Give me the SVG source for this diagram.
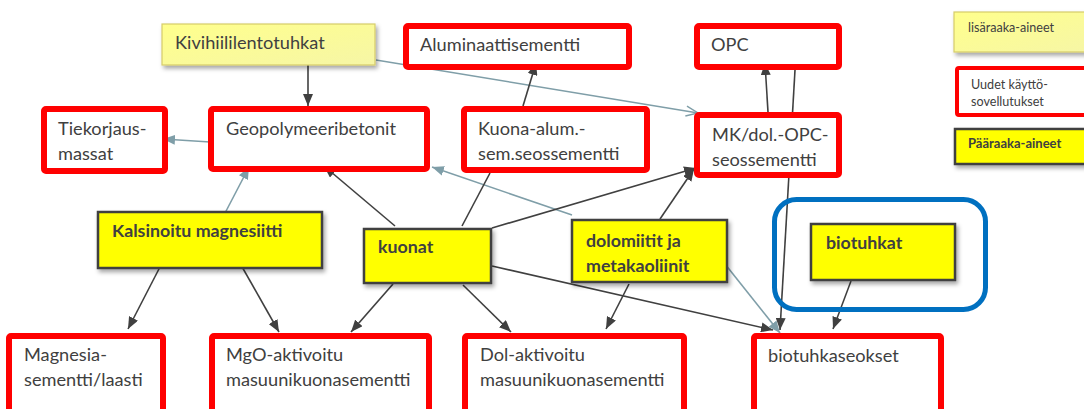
<svg xmlns="http://www.w3.org/2000/svg" width="1084" height="409" viewBox="0 0 1084 409">
<defs>
<style>
.t{font-family:Lato,"Open Sans","Liberation Sans",sans-serif;font-size:18.2px;fill:#404040}
.b{font-family:Lato,"Open Sans","Liberation Sans",sans-serif;font-size:17.8px;font-weight:bold;fill:#404040}
.s{font-family:Lato,"Open Sans","Liberation Sans",sans-serif;font-size:12.6px;fill:#404040}
.sb{font-family:Lato,"Open Sans","Liberation Sans",sans-serif;font-size:13px;font-weight:bold;fill:#404040}
.red{fill:#fff;stroke:#ff0000;stroke-width:6}
.yel{fill:#ffff00;stroke:#404040;stroke-width:2.5;filter:url(#sh)}
.lyel{fill:url(#lg);stroke:#d6cc6a;stroke-width:1.2;filter:url(#sh)}
.d{stroke:#404040;stroke-width:1.6;fill:none;marker-end:url(#ad)}
.dn{stroke:#404040;stroke-width:1.6;fill:none}
.g{stroke:#7f9ea8;stroke-width:1.6;fill:none;marker-end:url(#ag)}
.go{stroke:#7f9ea8;stroke-width:1.4;fill:none;marker-end:url(#ao)}
</style>
<linearGradient id="lg" x1="0" y1="0" x2="1" y2="1">
<stop offset="0" stop-color="#ffff8c"/>
<stop offset="1" stop-color="#f6f6a6"/>
</linearGradient>
<filter id="sh" x="-10%" y="-20%" width="130%" height="150%">
<feDropShadow dx="2" dy="3" stdDeviation="2" flood-color="#000" flood-opacity="0.35"/>
</filter>
<marker id="ad" markerUnits="userSpaceOnUse" markerWidth="12" markerHeight="10" refX="12" refY="5" orient="auto">
<path d="M0,0 L12,5 L0,10 z" fill="#404040"/>
</marker>
<marker id="ag" markerUnits="userSpaceOnUse" markerWidth="12" markerHeight="10" refX="12" refY="5" orient="auto">
<path d="M0,0 L12,5 L0,10 z" fill="#7f9ea8"/>
</marker>
<marker id="ao" markerUnits="userSpaceOnUse" markerWidth="14" markerHeight="12" refX="13" refY="6" orient="auto">
<path d="M1,1 L13,6 L1,11" fill="none" stroke="#7f9ea8" stroke-width="1.4"/>
</marker>
</defs>
<rect width="1084" height="409" fill="#fff"/>
<g id="connectors">
<line class="d" x1="308" y1="64" x2="308" y2="106"/>
<line class="go" x1="376" y1="60" x2="698" y2="113"/>
<line class="g" x1="210" y1="142" x2="163" y2="139"/>
<line class="d" x1="523" y1="106" x2="536" y2="63"/>
<line class="d" x1="768" y1="112" x2="765" y2="63"/>
<line class="d" x1="795" y1="70" x2="780" y2="330"/>
<line class="g" x1="224" y1="215" x2="249" y2="167"/>
<line class="d" x1="395" y1="226" x2="324" y2="166"/>
<line class="g" x1="572" y1="215" x2="432" y2="167"/>
<line class="dn" x1="462" y1="226" x2="490" y2="173"/>
<line class="d" x1="492" y1="228" x2="696" y2="168"/>
<line class="d" x1="660" y1="219" x2="694" y2="169"/>
<line class="d" x1="161" y1="265" x2="128" y2="329"/>
<line class="d" x1="241" y1="265" x2="279" y2="332"/>
<line class="d" x1="393" y1="284" x2="351" y2="332"/>
<line class="d" x1="463" y1="285" x2="511" y2="332"/>
<line class="d" x1="492" y1="266" x2="773" y2="330"/>
<line class="d" x1="629" y1="284" x2="606" y2="329"/>
<line class="g" x1="725" y1="264" x2="780" y2="333"/>
<line class="d" x1="851" y1="281" x2="833" y2="329"/>
</g>
<g id="kivihiililentotuhkat"><rect class="lyel" x="162" y="24" width="213" height="41"/><text class="t" x="175" y="49">Kivihiililentotuhkat</text></g>
<g id="aluminaattisementti"><rect class="red" x="406" y="26" width="223" height="41" rx="2"/><text class="t" x="420" y="51">Aluminaattisementti</text></g>
<g id="opc"><rect class="red" x="697" y="26" width="142" height="41" rx="2"/><text class="t" x="711" y="51">OPC</text></g>
<g id="tiekorjausmassat"><rect class="red" x="44" y="109" width="121" height="62" rx="2"/><text class="t" x="58" y="135">Tiekorjaus-</text><text class="t" x="58" y="160">massat</text></g>
<g id="geopolymeeribetonit"><rect class="red" x="211" y="109" width="216" height="60" rx="2"/><text class="t" x="226" y="135">Geopolymeeribetonit</text></g>
<g id="kuona-alum"><rect class="red" x="464" y="109" width="183" height="61" rx="2"/><text class="t" x="478" y="135">Kuona-alum.-</text><text class="t" x="478" y="160">sem.seossementti</text></g>
<g id="mk-dol-opc"><rect class="red" x="697" y="115" width="142" height="60" rx="2"/><text class="t" x="712" y="141">MK/dol.-OPC-</text><text class="t" x="712" y="166">seossementti</text></g>
<g id="kalsinoitu-magnesiitti"><rect class="yel" x="98" y="212" width="224" height="56"/><text class="b" x="112" y="237">Kalsinoitu magnesiitti</text></g>
<g id="kuonat"><rect class="yel" x="364" y="229" width="127" height="54"/><text class="b" x="378" y="253">kuonat</text></g>
<g id="dolomiitit"><rect class="yel" x="572" y="220" width="155" height="62"/><text class="b" x="586" y="247">dolomiitit ja</text><text class="b" x="586" y="272">metakaoliinit</text></g>
<g id="bio-group"><rect x="774.5" y="199.5" width="211" height="110" rx="22" fill="none" stroke="#0070c0" stroke-width="5"/></g>
<g id="biotuhkat"><rect class="yel" x="811" y="224" width="144" height="56"/><text class="b" x="826" y="249">biotuhkat</text></g>
<g id="magnesiasementti"><rect class="red" x="9" y="336" width="154" height="80" rx="2"/><text class="t" x="24" y="361">Magnesia-</text><text class="t" x="24" y="386">sementti/laasti</text></g>
<g id="mgo-aktivoitu"><rect class="red" x="212" y="336" width="217" height="80" rx="2"/><text class="t" x="226" y="361">MgO-aktivoitu</text><text class="t" x="226" y="386">masuunikuonasementti</text></g>
<g id="dol-aktivoitu"><rect class="red" x="465" y="336" width="219" height="80" rx="2"/><text class="t" x="480" y="361">Dol-aktivoitu</text><text class="t" x="480" y="386">masuunikuonasementti</text></g>
<g id="biotuhkaseokset"><rect class="red" x="754" y="336" width="187" height="80" rx="2"/><text class="t" x="768" y="362">biotuhkaseokset</text></g>
<g id="legend-lisaraaka"><rect class="lyel" x="954" y="12" width="140" height="40"/><text class="s" x="968" y="32">lisäraaka-aineet</text></g>
<g id="legend-uudet"><rect x="957" y="68" width="140" height="47" rx="2" fill="#fff" stroke="#ff0000" stroke-width="4"/><text class="s" x="971" y="89">Uudet käyttö-</text><text class="s" x="971" y="106">sovellutukset</text></g>
<g id="legend-paaraaka"><rect class="yel" x="955" y="129" width="140" height="35"/><text class="sb" x="968" y="148">Pääraaka-aineet</text></g>
</svg>
